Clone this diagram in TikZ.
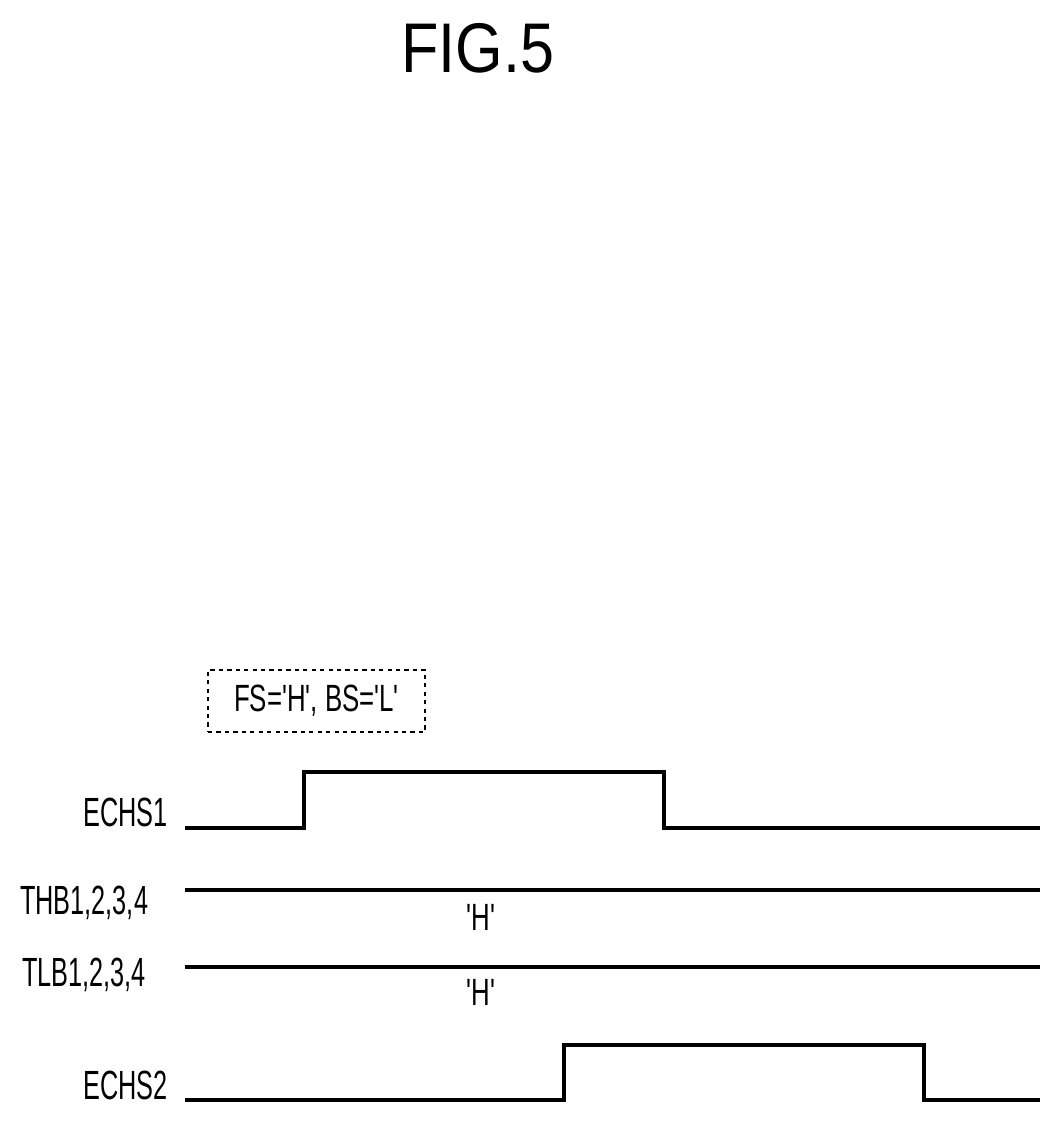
\documentclass[tikz,border=0pt]{standalone}
\usepackage{fontspec}
\setmainfont{Liberation Sans}
\newcommand{\sq}{\textquotesingle}
\begin{document}
\begin{tikzpicture}[
    x=0.025cm, y=-0.025cm,
    wave/.style = {line width=3.2pt},
    sig/.style = {font=\fontsize{29}{30}\selectfont, xscale=0.62, inner sep=0pt},
    val/.style = {font=\fontsize{27}{28}\selectfont, xscale=0.68, inner sep=0pt}
  ]
  \useasboundingbox (0,0) rectangle (1061,1124);
  \node[font=\fontsize{50}{52}\selectfont, xscale=0.87] (title) at (478,48) {FIG.5};
  % mode box
  \node[draw, dashed, thick, minimum width=217*0.025cm, minimum height=62*0.025cm,
        font=\fontsize{27}{28}\selectfont] (mode) at (316.5,701) {\scalebox{0.68}[1]{FS=\sq H\sq, BS=\sq L\sq}};
  % signal names
  \node[sig, anchor=east] (n1) at (168,812) {ECHS1};
  \node[sig, anchor=west] (n2) at (20,903) {THB1,2,3,4};
  \node[sig, anchor=west] (n3) at (22,975) {TLB1,2,3,4};
  \node[sig, anchor=east] (n4) at (168,1085) {ECHS2};
  % waveforms
  \draw[wave] (185,828) -- (304,828) -- (304,772) -- (664,772) -- (664,828) -- (1040,828);
  \draw[wave] (185,890) -- (1040,890);
  \draw[wave] (185,967) -- (1040,967);
  \draw[wave] (185,1100) -- (564,1100) -- (564,1045) -- (924,1045) -- (924,1100) -- (1040,1100);
  \node[val] (h1) at (481,917) {\sq H\sq};
  \node[val] (h2) at (481,992) {\sq H\sq};
\end{tikzpicture}
\end{document}
